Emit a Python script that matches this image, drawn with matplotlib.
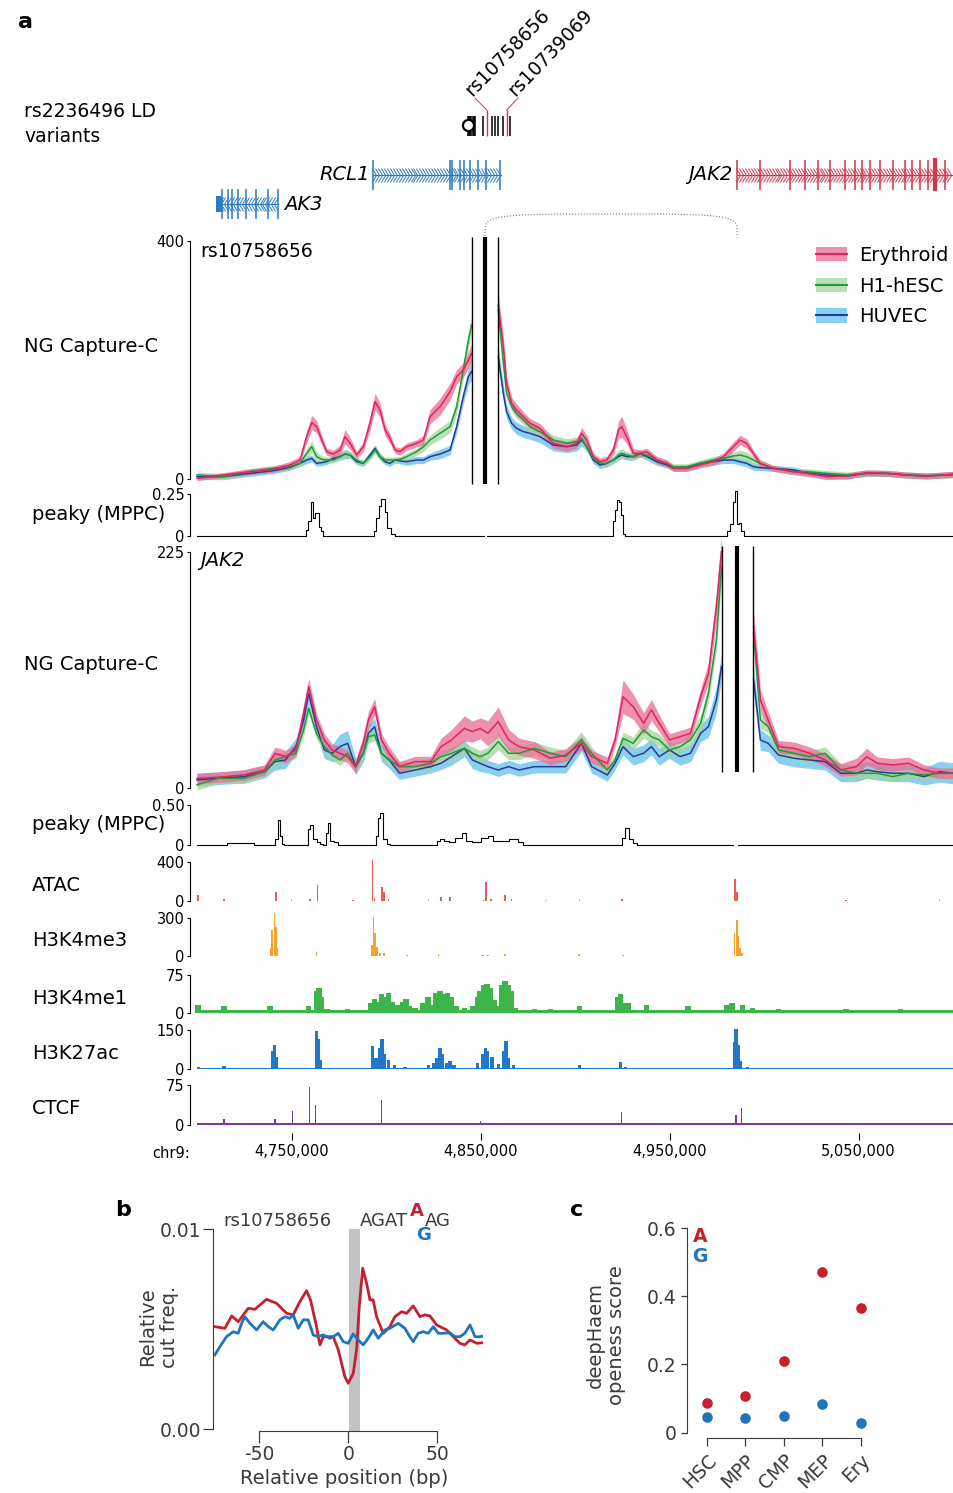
import numpy as np
import matplotlib
matplotlib.use("Agg")
import matplotlib.pyplot as plt
from matplotlib.patches import Patch, Rectangle
from matplotlib.lines import Line2D
from matplotlib.path import Path

plt.rcParams['font.family'] = ['DejaVu Sans']

# ---------------- data (positions in kb on chr9) ----------------
region = [4700, 5100]

# NG Capture-C, viewpoint rs10758656
cc1_kb = [4700.0, 4713.9, 4728.0, 4740.4, 4749.2, 4754.5, 4758.0, 4760.7, 4763.3, 4766.0, 4768.6, 4772.1,
          4775.7, 4778.3, 4781.0, 4784.5, 4788.0, 4791.5, 4794.2, 4796.8, 4799.5, 4802.1, 4804.8, 4807.4,
          4810.9, 4816.2, 4819.8, 4823.3, 4828.6, 4833.9, 4837.4, 4840.9, 4843.6, 4845.3,
          4859.4, 4862.1, 4863.8, 4866.5, 4869.1, 4872.7, 4876.2, 4881.5,
          4888.5, 4895.6, 4900.9, 4903.5, 4906.2, 4909.7, 4913.2, 4916.8, 4920.3, 4923.0, 4924.7, 4927.4,
          4930.9, 4934.4, 4938.0, 4943.3, 4948.6, 4952.1, 4959.1, 4966.1, 4973.2, 4978.5, 4983.8, 4987.3,
          4990.8, 4994.4, 4997.9, 5004.9, 5015.5, 5022.6, 5033.2, 5043.7, 5054.3, 5064.9, 5075.5, 5086.1, 5100.0]
ery1 = [1.1, 6.7, 12.3, 16.2, 23.5, 31.9, 71.1, 94.7, 88.0, 65.5, 45.9, 42.0, 48.7, 71.1, 59.9, 40.3, 54.3,
        93.6, 130.0, 116.0, 82.4, 68.3, 48.7, 45.9, 54.3, 59.9, 65.5, 104.8, 121.6, 146.8, 172.0, 183.2, 200.0, 211.2,
        292.4, 222.4, 160.8, 127.2, 116.0, 104.8, 93.6, 85.2,
        59.9, 54.3, 59.9, 76.8, 65.5, 37.5, 29.1, 31.9, 48.7, 82.4, 88.0, 71.1, 43.1, 43.1, 45.9, 31.9, 26.3,
        17.9, 17.9, 23.5, 29.1, 37.5, 54.3, 65.5, 59.9, 43.1, 26.3, 17.9, 12.3, 9.5, 3.9, 5.0, 10.6, 9.5, 6.7, 5.0, 7.8]
ery1_err = [4, 4, 5, 5, 6, 6, 10, 12, 10, 8, 6, 6, 8, 12, 10, 6, 8, 12, 14, 12, 10, 8, 6, 6, 6, 6, 8, 12, 14, 14,
            12, 12, 14, 16, 20, 16, 12, 10, 10, 8, 8, 8,
            8, 8, 8, 10, 8, 6, 6, 6, 8, 14, 18, 12, 8, 6, 6, 6, 6, 5, 5, 5, 6, 6, 8, 8, 8, 6, 6, 5, 5, 5, 5, 5,
            5, 5, 5, 5, 5]
h1_1 = [6.7, 3.9, 12.3, 17.9, 20.7, 26.3, 43.1, 54.3, 37.5, 33.1, 31.9, 31.9, 37.5, 42.0, 40.3, 31.9, 26.3,
        37.5, 48.7, 37.5, 31.9, 31.9, 31.9, 33.1, 37.5, 45.9, 54.3, 65.5, 76.8, 88.0, 121.6, 183.2, 233.6, 258.8,
        284.0, 194.4, 144.0, 121.6, 110.4, 99.2, 88.0, 79.6,
        65.5, 59.9, 62.7, 68.3, 54.3, 34.7, 26.3, 26.3, 31.9, 40.3, 43.1, 40.3, 37.5, 43.1, 40.3, 31.9, 26.3,
        20.7, 20.7, 26.3, 31.9, 34.7, 38.7, 40.3, 37.5, 31.9, 26.3, 17.9, 12.3, 12.3, 9.5, 6.7, 9.5, 9.5, 6.7, 5.6, 6.7]
h1_1_err = [5, 5, 5, 5, 5, 5, 8, 10, 8, 6, 5, 5, 5, 6, 6, 5, 5, 6, 6, 6, 5, 5, 5, 5, 6, 6, 8, 8, 10, 10,
            12, 14, 14, 14, 14, 12, 10, 8, 8, 8, 8, 8,
            8, 8, 8, 8, 6, 5, 5, 5, 6, 8, 8, 6, 6, 6, 6, 6, 5, 5, 5, 5, 6, 6, 6, 8, 8, 6, 5, 5, 5, 5, 5, 5,
            5, 5, 5, 5, 5]
hu_1 = [3.9, 3.9, 9.5, 14.0, 19.6, 26.3, 31.9, 34.7, 26.3, 27.5, 29.1, 34.7, 37.5, 42.0, 40.3, 29.1, 26.3,
        40.3, 51.5, 37.5, 29.1, 26.3, 31.9, 30.3, 29.1, 31.9, 31.9, 37.5, 42.0, 48.7, 88.0, 138.4, 172.0, 180.4,
        205.6, 144.0, 113.2, 93.6, 85.2, 79.6, 76.8, 71.1,
        57.1, 54.3, 57.1, 65.5, 54.3, 31.9, 23.5, 26.3, 31.9, 37.5, 40.3, 37.5, 37.5, 43.1, 37.5, 29.1, 23.5,
        17.9, 17.9, 26.3, 29.1, 31.9, 31.9, 29.1, 26.3, 20.7, 19.0, 17.9, 15.1, 10.6, 6.7, 5.0, 9.5, 9.5, 6.7, 5.0, 7.8]
hu_1_err = [5, 5, 5, 5, 5, 5, 6, 6, 5, 5, 5, 5, 6, 8, 6, 5, 5, 6, 6, 6, 5, 5, 5, 5, 6, 6, 6, 6, 8, 8,
            10, 12, 14, 14, 16, 14, 12, 10, 10, 10, 10, 10,
            10, 10, 10, 10, 8, 6, 6, 6, 6, 6, 6, 6, 6, 6, 6, 6, 5, 5, 5, 5, 6, 6, 6, 6, 6, 6, 5, 5, 5, 5, 5, 5,
            5, 5, 5, 5, 5]
vp1 = [4845.3, 4852.4, 4859.4]

# NG Capture-C, viewpoint JAK2
cc2_kb = [4700.0, 4711.0, 4724.8, 4735.7, 4741.3, 4746.8, 4752.3, 4756.4, 4759.1, 4763.2, 4767.4, 4771.5,
          4775.6, 4779.7, 4783.9, 4788.0, 4790.7, 4794.0, 4797.6, 4801.7, 4807.2, 4815.4, 4823.7, 4829.1,
          4834.7, 4841.5, 4845.7, 4849.8, 4853.9, 4859.4, 4864.9, 4870.4, 4878.6, 4886.9, 4895.1, 4903.4,
          4908.8, 4917.1, 4921.2, 4925.4, 4930.8, 4936.3, 4940.4, 4944.6, 4950.0, 4955.6, 4961.1, 4966.5,
          4970.6, 4974.8, 4977.5,
          4994.5, 4998.1, 5002.2, 5007.7, 5016.0, 5024.2, 5032.4, 5040.7, 5048.9, 5054.4, 5059.9, 5068.2,
          5076.4, 5084.7, 5092.9, 5100.0]
ery2 = [9.5, 10.5, 12.7, 17.4, 33.3, 30.1, 36.4, 71.3, 96.7, 65.0, 46.0, 36.4, 33.3, 30.1, 20.6, 42.8, 65.0,
        77.6, 46.0, 33.3, 20.6, 25.4, 25.4, 39.6, 46.0, 57.0, 53.9, 57.0, 52.3, 63.4, 46.0, 39.6, 36.4, 28.5,
        31.7, 42.8, 30.1, 23.8, 46.0, 87.1, 77.6, 61.8, 74.5, 61.8, 46.0, 49.1, 52.3, 87.1, 109.3, 172.7, 225.0,
        153.7, 84.0, 65.0, 39.6, 38.0, 33.3, 26.9, 17.4, 20.6, 30.1, 23.8, 22.2, 23.8, 17.4, 14.3, 14.3]
ery2_err = [5, 5, 5, 5, 6, 6, 6, 8, 8, 6, 6, 6, 6, 6, 6, 8, 8, 8, 6, 6, 5, 5, 5, 8, 10, 12, 10, 10, 12, 14,
            10, 8, 8, 6, 6, 6, 6, 6, 6, 16, 12, 10, 10, 8, 6, 6, 6, 8, 10, 14, 16,
            14, 10, 8, 6, 6, 6, 6, 6, 8, 8, 6, 6, 6, 5, 5, 5]
h1_2 = [3.2, 9.5, 9.5, 15.8, 26.9, 30.1, 33.3, 55.5, 76.1, 52.3, 39.6, 31.7, 26.9, 33.3, 20.6, 33.3, 49.1,
        50.7, 33.3, 26.9, 20.6, 20.6, 23.8, 30.1, 33.3, 38.0, 33.3, 30.1, 33.3, 44.4, 33.3, 33.3, 38.0, 33.3,
        30.1, 46.0, 33.3, 17.4, 26.9, 47.5, 42.8, 55.5, 49.1, 46.0, 36.4, 39.6, 46.0, 61.8, 90.3, 141.0, 210.7,
        147.4, 65.0, 58.6, 36.4, 33.3, 30.1, 33.3, 17.4, 14.3, 14.3, 14.3, 11.1, 14.3, 12.7, 14.3, 14.3]
h1_2_err = [5, 5, 5, 5, 5, 5, 5, 6, 6, 5, 5, 5, 5, 5, 5, 5, 6, 6, 5, 5, 5, 5, 5, 6, 6, 6, 6, 6, 6, 8,
            6, 6, 6, 6, 6, 8, 6, 5, 5, 6, 6, 8, 6, 6, 6, 6, 6, 8, 8, 10, 12,
            12, 8, 6, 6, 6, 6, 6, 6, 5, 5, 5, 5, 5, 5, 5, 5]
hu_2 = [7.9, 9.5, 11.1, 15.8, 25.4, 26.9, 39.6, 65.0, 90.3, 58.6, 36.4, 33.3, 39.6, 42.8, 20.6, 33.3, 52.3,
        58.6, 33.3, 26.9, 14.3, 17.4, 20.6, 23.8, 30.1, 38.0, 26.9, 23.8, 20.6, 17.4, 20.6, 17.4, 20.6, 20.6,
        20.6, 42.8, 20.6, 12.7, 23.8, 39.6, 30.1, 33.3, 39.6, 30.1, 36.4, 30.1, 33.3, 52.3, 58.6, 84.0, 115.7,
        103.0, 46.0, 42.8, 31.7, 28.5, 26.9, 25.4, 14.3, 14.3, 17.4, 15.8, 14.3, 14.3, 11.1, 15.8, 14.3]
hu_2_err = [6, 6, 6, 6, 8, 8, 8, 8, 8, 8, 8, 8, 12, 12, 8, 8, 8, 8, 8, 8, 6, 6, 6, 6, 8, 8, 8, 8, 6, 6,
            6, 6, 6, 6, 6, 8, 6, 6, 6, 8, 8, 8, 8, 8, 8, 8, 8, 8, 10, 12, 12,
            12, 10, 8, 8, 8, 8, 8, 8, 8, 8, 8, 8, 8, 8, 10, 10]
vp2 = [4978.0, 4985.8, 4994.0]

# peaky (MPPC) tracks
nan = np.nan
peaky1_kb = [4700, 4757.0, 4758.0, 4759.8, 4761.2, 4761.9, 4763.0, 4764.2, 4765.1, 4766.0, 4767.5, 4793.0,
             4794.2, 4795.4, 4796.8, 4797.7, 4798.9, 4800.0, 4801.2, 4803.9, 4805.5, 4850.6, 4852.6, 4854.6,
             4919.5, 4920.6, 4921.7, 4922.7, 4923.8, 4924.9, 4925.9, 4927.0, 4980.0, 4981.1, 4982.9, 4984.1,
             4985.5, 4986.4, 4987.3, 4988.5, 4990.0, 5100]
peaky1_val = [0, 0, 0.036, 0.089, 0.205, 0.107, 0.134, 0.134, 0.054, 0.027, 0, 0, 0.027, 0.107, 0.179, 0.218,
              0.218, 0.143, 0.045, 0.010, 0, 0, nan, 0, 0, 0.089, 0.152, 0.214, 0.205, 0.125, 0.009, 0, 0,
              0.027, 0.071, 0.205, 0.268, 0.071, 0.080, 0.027, 0, 0]
peaky2_kb = [4700, 4714, 4718, 4723, 4728, 4732, 4741.0, 4741.8, 4743.5, 4744.6, 4745.4, 4746.5, 4758.2,
             4759.1, 4760.5, 4761.9, 4764.6, 4766, 4767.8, 4768.7, 4769.8, 4770.9, 4774.2, 4775.5, 4794.5,
             4795.4, 4796.5, 4797.6, 4798.9, 4801.7, 4803, 4826.5, 4827.8, 4829.2, 4831.9, 4834.7, 4838.8,
             4841.5, 4842.9, 4848.4, 4852.5, 4855.3, 4858.0, 4862.1, 4867.6, 4871.7, 4873, 4924.0, 4925.3,
             4928.1, 4929.4, 4932.2, 4933.5, 4982.6, 4985.1, 4987.6, 5100]
peaky2_val = [0, 0, 0.02, 0.024, 0.02, 0, 0, 0.073, 0.317, 0.114, 0.012, 0, 0, 0.195, 0.256, 0.073, 0.033,
              0.01, 0, 0.154, 0.276, 0.053, 0.033, 0, 0, 0.114, 0.337, 0.398, 0.073, 0.012, 0, 0, 0.053, 0.073,
              0.053, 0.033, 0.093, 0.154, 0.053, 0.033, 0.093, 0.114, 0.053, 0.053, 0.073, 0.033, 0, 0, 0.093,
              0.215, 0.073, 0.024, 0, 0, nan, 0, 0]

# chromatin tracks: peak positions (kb) and heights
atac_kb = [4700.6, 4714.3, 4741.8, 4750.1, 4759.9, 4763.8, 4782.5, 4792.9, 4794.0, 4797.8, 4798.9, 4801.2,
           4822.6, 4829.1, 4833.9, 4851.7, 4852.8, 4855.6, 4863.0, 4866.3, 4884.9, 4902.3, 4924.8, 4984.7,
           4985.8, 5043.4, 5092.9]
atac_h = [57, 17, 91, 13, 17, 165, 7, 420, 30, 141, 97, 17, 13, 40, 40, 7, 192, 24, 57, 24, 13, 13, 24, 225,
          91, 13, 13]
me3_kb = [4739.1, 4739.9, 4741.0, 4741.8, 4742.6, 4763.2, 4792.6, 4793.4, 4794.3, 4795.4, 4796.8, 4798.9,
          4811.3, 4827.8, 4851.2, 4853.9, 4863.0, 4902.3, 4925.4, 4984.4, 4985.5, 4986.3, 4987.4, 4988.5]
me3_h = [60, 204, 336, 228, 60, 31, 84, 305, 180, 72, 24, 24, 7, 17, 10, 10, 17, 17, 6, 180, 288, 156, 60, 24]
me1_kb = [4700.6, 4714.3, 4738.5, 4759.1, 4763.3, 4764.6, 4766.0, 4768.7, 4779.7, 4792.1, 4794.0, 4796.2,
          4797.6, 4799.0, 4801.2, 4803.1, 4805.8, 4808.6, 4810.5, 4812.1, 4815.4, 4819.6, 4822.3, 4824.2,
          4826.4, 4828.6, 4830.5, 4832.5, 4834.7, 4837.4, 4841.5, 4845.7, 4848.4, 4849.8, 4851.7, 4853.4,
          4855.3, 4857.2, 4859.4, 4861.3, 4863.0, 4864.9, 4866.5, 4868.2, 4873.1, 4878.6, 4886.9, 4902.3,
          4922.6, 4924.0, 4926.7, 4928.1, 4937.7, 4947.3, 4959.7, 4980.3, 4983.0, 4988.5, 4994.0, 5007.7,
          5032.5, 5043.5, 5072.3, 5092.9]
me1_h = [15.9, 13.0, 13.0, 13.0, 42.5, 48.4, 30.7, 7.1, 7.1, 18.9, 27.8, 21.9, 36.6, 30.7, 39.6, 21.9, 15.9,
         21.9, 27.8, 13.0, 10.0, 18.9, 30.7, 15.9, 39.6, 42.5, 36.6, 39.6, 30.7, 13.0, 10.0, 13.0, 30.7, 42.5,
         54.3, 57.3, 48.4, 24.8, 13.0, 54.3, 63.2, 54.3, 42.5, 10.0, 4.1, 8.3, 8.3, 14.2, 30.7, 36.6, 18.9,
         20.1, 15.9, 1.2, 13.0, 15.9, 18.9, 15.9, 10.0, 7.1, 1.2, 7.1, 7.1, 4.1]
k27_kb = [4700.6, 4714.3, 4739.9, 4741.0, 4742.1, 4763.3, 4764.1, 4765.2, 4792.9, 4794.0, 4795.7, 4796.8,
          4797.9, 4799.0, 4801.2, 4804.5, 4810.0, 4822.3, 4825.1, 4827.0, 4828.6, 4829.7, 4831.9, 4833.9,
          4836.0, 4848.4, 4851.2, 4852.5, 4853.9, 4856.1, 4859.4, 4862.2, 4863.5, 4864.9, 4867.6, 4902.3,
          4924.0, 4926.7, 4984.4, 4985.2, 4986.3, 4987.7, 4991.3, 5007.7, 5038.0]
k27_h = [8.0, 11.4, 70.4, 90.9, 47.7, 144.3, 115.9, 36.4, 87.5, 42.0, 42.0, 81.8, 115.9, 59.1, 36.4, 13.6,
         8.0, 13.6, 25.0, 42.0, 79.5, 59.1, 25.0, 30.7, 13.6, 25.0, 59.1, 81.8, 70.4, 47.7, 19.3, 70.4, 106.8,
         42.0, 13.6, 13.6, 27.3, 8.0, 104.5, 152.2, 93.2, 30.7, 8.0, 5.7, 5.7]
ctcf_kb = [4714.3, 4741.3, 4750.3, 4759.7, 4762.9, 4797.6, 4849.8, 4924.5, 4985.2, 4988.0]
ctcf_h = [11, 12, 27, 72, 37, 47, 8, 24, 19, 31]
track_base = {'ATAC': 3, 'H3K4me3': 3, 'H3K4me1': 5, 'H3K27ac': 4, 'CTCF': 4}

# genes
gene_names = ['AK3', 'RCL1', 'JAK2']
gene_start = [4710.1, 4793.1, 4985.7]
gene_end = [4742.9, 4860.8, 5128.2]
gene_strand = [-1, 1, 1]
gene_exons = [[4713.2, 4716.4, 4718.5, 4721.7, 4725.9, 4731.2, 4737.6, 4742.9],
              [4793.1, 4833.9, 4834.9, 4839.2, 4841.3, 4844.4, 4848.7, 4852.9, 4860.3],
              [4985.7, 4997.9, 5013.8, 5021.7, 5028.6, 5034.9, 5042.9, 5048.1, 5051.9, 5056.1, 5061.4,
               5068.3, 5074.6, 5078.3, 5082.5, 5086.8, 5090.5, 5095.8]]
ak3_utr = [4710.1, 4713.2]

# rs2236496 LD variants
ld_kb = [4843.4, 4844.0, 4844.6, 4845.2, 4845.8, 4846.5, 4847.2, 4851.3, 4856.1, 4857.7, 4859.3, 4861.9, 4865.6]
lead_kb = 4843.4
snp_names = ['rs10758656', 'rs10739069']
snp_kb = [4853.3, 4863.9]
snp_label_kb = [4845.6, 4868.4]

# panel b: footprint around rs10758656
b_pos_red = [-74.9, -69.3, -65.5, -61.8, -56.2, -52.4, -45.9, -40.3, -34.6, -30.9, -27.2, -23.4, -21.2,
             -17.8, -15.9, -14.0, -10.3, -8.4, -5.6, -1.9, 0.0, 2.8, 4.7, 6.2, 8.1, 10.3, 12.2, 14.0, 15.9,
             19.7, 23.4, 26.2, 30.0, 32.8, 36.5, 40.3, 43.1, 45.9, 49.6, 55.2, 59.0, 62.7, 65.5, 68.4, 72.1, 75.8]
b_red = [0.00513, 0.00505, 0.00567, 0.00538, 0.00605, 0.00600, 0.00650, 0.00630, 0.00580, 0.00572, 0.00638,
         0.00693, 0.00647, 0.00513, 0.00422, 0.00463, 0.00463, 0.00463, 0.00397, 0.00263, 0.00230, 0.00280,
         0.00397, 0.00613, 0.00805, 0.00730, 0.00647, 0.00647, 0.00563, 0.00480, 0.00513, 0.00563, 0.00588,
         0.00580, 0.00617, 0.00563, 0.00572, 0.00567, 0.00522, 0.00497, 0.00463, 0.00430, 0.00422, 0.00447,
         0.00430, 0.00433]
b_pos_blue = [-74.9, -72.1, -68.4, -64.6, -61.8, -59.9, -58.1, -55.2, -51.5, -47.8, -44.9, -42.1, -38.4,
              -35.6, -32.8, -30.9, -28.1, -25.3, -22.5, -19.7, -16.9, -14.0, -10.3, -8.4, -5.6, -2.8, 0.0, 2.8,
              5.6, 8.4, 11.2, 14.0, 16.9, 20.6, 23.4, 28.1, 31.8, 34.6, 36.5, 39.3, 42.1, 44.9, 47.8, 50.6,
              53.4, 57.1, 59.9, 62.7, 65.5, 68.4, 71.2, 74.0, 75.8]
b_blue = [0.00372, 0.00413, 0.00463, 0.00488, 0.00480, 0.00530, 0.00563, 0.00530, 0.00497, 0.00538, 0.00513,
          0.00497, 0.00547, 0.00563, 0.00555, 0.00572, 0.00505, 0.00547, 0.00547, 0.00472, 0.00463, 0.00472,
          0.00455, 0.00463, 0.00480, 0.00438, 0.00430, 0.00477, 0.00447, 0.00422, 0.00455, 0.00497, 0.00455,
          0.00497, 0.00505, 0.00530, 0.00505, 0.00463, 0.00438, 0.00480, 0.00488, 0.00480, 0.00513, 0.00480,
          0.00480, 0.00483, 0.00463, 0.00463, 0.00480, 0.00522, 0.00463, 0.00463, 0.00467]
snp_window = [0.6, 6.4]

# panel c: deepHaem scores
cell_types = ['HSC', 'MPP', 'CMP', 'MEP', 'Ery']
score_A = [0.088, 0.108, 0.210, 0.470, 0.365]
score_G = [0.045, 0.042, 0.048, 0.085, 0.028]

# ---------------- figure ----------------
W, H = 954, 1493
fig = plt.figure(figsize=(W / 100, H / 100), dpi=100)
fig.patch.set_facecolor('white')


def box(x0, y0, x1, y1):
    # axes from pixel corners (top-left origin)
    return fig.add_axes([x0 / W, 1 - y1 / H, (x1 - x0) / W, (y1 - y0) / H])


def ftext(x, y, s, **kw):
    fig.text(x / W, 1 - y / H, s, **kw)


def track(y0, y1, ymax, lab):
    ax = box(197, y0, 953, y1)
    ax.set_xlim(*region)
    ax.set_ylim(0, ymax)
    for s in ['top', 'right', 'bottom']:
        ax.spines[s].set_visible(False)
    ax.spines['left'].set_position(('outward', 5))
    ax.spines['left'].set_linewidth(0.8)
    ax.set_yticks([0, ymax])
    ax.set_yticklabels(['0', lab], fontsize=10.5)
    ax.tick_params(axis='y', length=2.5, width=0.8, pad=1.5)
    ax.set_xticks([])
    ax.patch.set_alpha(0)
    return ax


ERY = ('#e0245e', '#e86d94')
H1 = ('#1f9a3c', '#a3d597')
HUV = ('#283c96', '#62c0ea')


def draw_capture(ax, kb, series, vp):
    kb = np.asarray(kb)
    sides = [kb < vp[1], kb > vp[1]]
    for vals, errs, cols in series:
        v, e = np.asarray(vals), np.asarray(errs)
        for m in sides:
            ax.fill_between(kb[m], v[m] - e[m], v[m] + e[m], color=cols[1], alpha=0.75, lw=0, clip_on=False)
    for vals, errs, cols in series:
        v = np.asarray(vals)
        for m in sides:
            ax.plot(kb[m], v[m], color=cols[0], lw=1.1, clip_on=False)


# --- top: genes and variants ---
top = box(197, 0, 953, 240)
top.set_xlim(*region)
top.set_ylim(240, 0)
top.axis('off')
chev_r = Path([(-0.3, 1), (0.3, 0), (-0.3, -1)], [Path.MOVETO, Path.LINETO, Path.LINETO])
chev_l = Path([(0.3, 1), (-0.3, 0), (0.3, -1)], [Path.MOVETO, Path.LINETO, Path.LINETO])
gene_cols = ['#2b7bc4', '#2b7bc4', '#d7344a']
gene_rows = [204, 175, 175]
for name, g0, g1, strand, ex, col, row in zip(gene_names, gene_start, gene_end, gene_strand,
                                              gene_exons, gene_cols, gene_rows):
    g1c = min(g1, region[1])
    top.plot([g0, g1c], [row, row], color=col, lw=0.8)
    chev = np.arange(g0 + 0.8, g1c - 0.5, 1.55)
    top.plot(chev, np.full(len(chev), row), ls='none', marker=chev_r if strand > 0 else chev_l, ms=10,
             mfc='none', mec=col, mew=0.7)
    ex = [e for e in ex if e <= region[1]]
    top.vlines(ex, row - 15, row + 15, color=col, lw=1.1)
top.add_patch(Rectangle((ak3_utr[0], 196), ak3_utr[1] - ak3_utr[0], 16, color=gene_cols[0], lw=0))
top.vlines(5090.5, 158, 191, color=gene_cols[2], lw=3)
top.text(gene_start[1] - 1.5, 175, 'RCL1', style='italic', fontsize=14, ha='right', va='center')
top.text(gene_start[2] - 2.5, 175, 'JAK2', style='italic', fontsize=14, ha='right', va='center')
top.text(gene_end[0] + 3.2, 204, 'AK3', style='italic', fontsize=14, ha='left', va='center')

top.vlines(ld_kb, 116, 136, color='k', lw=1.1)
top.vlines(snp_kb, 110, 136, color='#d7344a', lw=1)
top.plot(lead_kb, 125, 'o', mfc='white', mec='k', ms=8, mew=1.6)
for nm, s, lab in zip(snp_names, snp_kb, snp_label_kb):
    top.plot([s, lab + 1.5], [110, 98], color='#d7344a', lw=0.7)
    top.text(lab, 97, nm, rotation=46, rotation_mode='anchor', ha='left', va='baseline', fontsize=13.5)

# interaction arc between viewpoints
t = np.linspace(0, np.pi, 120)
arc_x = (vp1[1] + vp2[1]) / 2 - (vp2[1] - vp1[1]) / 2 * np.sign(np.cos(t)) * np.abs(np.cos(t)) ** 0.5
arc_y = 236 - 22 * np.sin(t) ** 0.35
top.plot(arc_x, arc_y, ls=':', color='#777777', lw=0.8)

# --- Capture-C rs10758656 ---
ax1 = track(241, 479, 400, '400')
draw_capture(ax1, cc1_kb, [(hu_1, hu_1_err, HUV), (h1_1, h1_1_err, H1), (ery1, ery1_err, ERY)], vp1)
ax1.vlines(vp1, -8.4, 406.7, colors='k', lw=[1, 3, 1], clip_on=False)
ax1.text(4701.5, 382, 'rs10758656', fontsize=13.5, ha='left', va='center')

handles = [(Patch(facecolor=c[1], alpha=0.75, lw=0), Line2D([], [], color=c[0], lw=1.5)) for c in (ERY, H1, HUV)]
fig.legend(handles, ['Erythroid', 'H1-hESC', 'HUVEC'], loc='upper left',
           bbox_to_anchor=(816 / W, 1 - 246 / H), frameon=False, fontsize=14, handlelength=1.6,
           handleheight=0.75, handletextpad=0.6, labelspacing=0.6, borderpad=0, borderaxespad=0)

ax2 = track(494, 536, 0.25, '0.25')
ax2.plot(peaky1_kb, peaky1_val, drawstyle='steps-mid', color='k', lw=0.8, clip_on=False)

# --- Capture-C JAK2 ---
ax3 = track(551.7, 788.3, 225, '225')
draw_capture(ax3, cc2_kb, [(hu_2, hu_2_err, HUV), (h1_2, h1_2_err, H1), (ery2, ery2_err, ERY)], vp2)
ax3.vlines(vp2, 15.5, 230.4, colors='k', lw=[1, 3, 1], clip_on=False)
ax3.text(4701.5, 217, 'JAK2', style='italic', fontsize=14, ha='left', va='center')

ax4 = track(805, 845, 0.5, '0.50')
ax4.plot(peaky2_kb, peaky2_val, drawstyle='steps-mid', color='k', lw=0.8, clip_on=False)

# --- chromatin tracks ---
chrom = [('ATAC', 862, 901, 400, atac_kb, atac_h, 0.8, '#ec5a5a'),
         ('H3K4me3', 918, 956, 300, me3_kb, me3_h, 1.0, '#f7a12a'),
         ('H3K4me1', 975, 1013, 75, me1_kb, me1_h, 2.9, '#3db54a'),
         ('H3K27ac', 1030, 1069, 150, k27_kb, k27_h, 1.7, '#1f78c8'),
         ('CTCF', 1085, 1125, 75, ctcf_kb, ctcf_h, 0.6, '#7a3aa0')]
for name, y0, y1, ymax, kb, hh, w, col in chrom:
    ax = track(y0, y1, ymax, str(ymax))
    ax.fill_between(region, 0, track_base[name], color=col, lw=0)
    ax.bar(kb, hh, width=w, color=col, lw=0, clip_on=False)
    ftext(32, (y0 + y1) / 2 + 4, name, fontsize=14, va='center')
axc_ = ax
axc_.spines['bottom'].set_visible(True)
axc_.spines['bottom'].set_position(('outward', 6))
axc_.spines['bottom'].set_color('none')
axc_.set_xticks([4750, 4850, 4950, 5050])
axc_.set_xticklabels(['4,750,000', '4,850,000', '4,950,000', '5,050,000'], fontsize=10.5)
axc_.tick_params(axis='x', length=5, width=0.8, pad=3)
ftext(152, 1153, 'chr9:', fontsize=10.5, va='center')

# left labels
ftext(24, 346, 'NG Capture-C', fontsize=14, va='center')
ftext(24, 664, 'NG Capture-C', fontsize=14, va='center')
ftext(32, 514, 'peaky (MPPC)', fontsize=14, va='center')
ftext(32, 824, 'peaky (MPPC)', fontsize=14, va='center')
ftext(24, 124, 'rs2236496 LD\nvariants', fontsize=13.5, va='center', linespacing=1.4)
ftext(18, 22, 'a', fontsize=16, fontweight='bold', va='center')

# ---------------- panel b ----------------
RED, BLUE, GREY = '#c4202f', '#1f74bb', '#3a3a3a'
axb = box(213.3, 1229.3, 483, 1429.3)
axb.set_xlim(-75.8, 75.7)
axb.set_ylim(0, 0.01)
axb.axvspan(snp_window[0], snp_window[1], ymin=-0.01, ymax=1, color='#c3c3c3', lw=0, clip_on=False)
axb.plot(b_pos_red, b_red, color=RED, lw=2)
axb.plot(b_pos_blue, b_blue, color=BLUE, lw=2)
axb.spines['top'].set_visible(False)
axb.spines['right'].set_visible(False)
axb.spines['left'].set_bounds(0, 0.01)
axb.spines['bottom'].set_bounds(-50, 50)
axb.spines['bottom'].set_position(('outward', 1))
for s in ['left', 'bottom']:
    axb.spines[s].set_color(GREY)
axb.set_yticks([0, 0.01])
axb.set_yticklabels(['0.00', '0.01'], fontsize=13.5, color=GREY)
axb.set_xticks([-50, 0, 50])
axb.set_xticklabels(['-50', '0', '50'], fontsize=13.5, color=GREY)
axb.tick_params(axis='y', length=7, width=0.9, color=GREY, pad=2)
axb.tick_params(axis='x', length=8.5, width=0.9, color=GREY, pad=2)
axb.patch.set_alpha(0)
ftext(344, 1478, 'Relative position (bp)', fontsize=14, ha='center', va='center', color=GREY)
ftext(159, 1327, 'Relative\ncut freq.', fontsize=14, ha='center', va='center', rotation=90, color=GREY)
ftext(223, 1221, 'rs10758656', fontsize=13, va='center', color=GREY)
ftext(360, 1221, 'AGAT', fontsize=13, va='center', color=GREY)
ftext(417, 1211, 'A', fontsize=13, fontweight='bold', ha='center', va='center', color=RED)
ftext(425, 1221, 'AG', fontsize=13, va='center', color=GREY)
ftext(424, 1235, 'G', fontsize=13, fontweight='bold', ha='center', va='center', color=BLUE)
ftext(115, 1210, 'b', fontsize=16, fontweight='bold', va='center')

# ---------------- panel c ----------------
axp = box(687.4, 1228, 890, 1432.7)
axp.set_xlim(-0.503, 4.752)
axp.set_ylim(0, 0.6)
x = np.arange(len(cell_types))
axp.scatter(x, score_A, s=58, color=RED, lw=0, zorder=3, clip_on=False)
axp.scatter(x, score_G, s=58, color=BLUE, lw=0, zorder=3, clip_on=False)
axp.spines['top'].set_visible(False)
axp.spines['right'].set_visible(False)
axp.spines['left'].set_bounds(0, 0.6)
axp.spines['bottom'].set_bounds(0, 4)
axp.spines['bottom'].set_position(('outward', 4))
for s in ['left', 'bottom']:
    axp.spines[s].set_color(GREY)
axp.set_yticks([0, 0.2, 0.4, 0.6])
axp.set_yticklabels(['0', '0.2', '0.4', '0.6'], fontsize=13.5, color=GREY)
axp.set_xticks(x)
axp.set_xticklabels(cell_types, fontsize=13.5, color=GREY, rotation=45, ha='right', va='top',
                    rotation_mode='anchor')
axp.tick_params(axis='y', length=4.3, width=0.9, color=GREY, pad=3.5)
axp.tick_params(axis='x', length=6, width=0.9, color=GREY, pad=3)
axp.patch.set_alpha(0)
ftext(606, 1335, 'deepHaem\nopeness score', fontsize=14, ha='center', va='center', rotation=90, color=GREY)
ftext(700, 1236, 'A', fontsize=13.5, fontweight='bold', ha='center', va='center', color=RED)
ftext(700, 1257, 'G', fontsize=13.5, fontweight='bold', ha='center', va='center', color=BLUE)
ftext(570, 1210, 'c', fontsize=16, fontweight='bold', va='center')

fig.savefig('out.png', dpi=100)
